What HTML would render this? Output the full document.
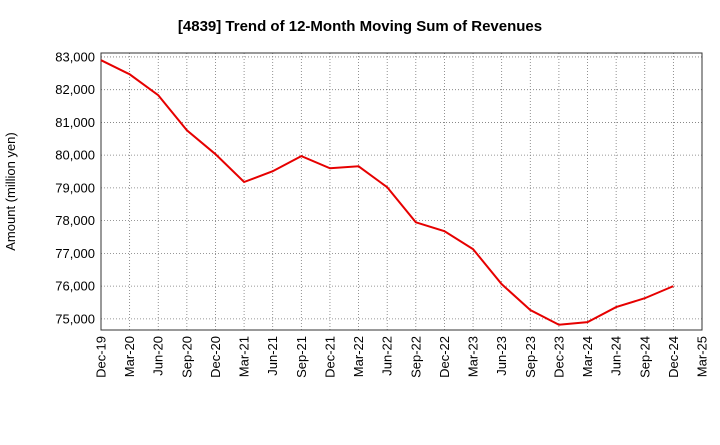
<!DOCTYPE html>
<html><head><meta charset="utf-8"><style>
body{margin:0;background:#fff;font-family:"Liberation Sans",sans-serif}
</style></head><body>
<svg id="c" width="720" height="440" xmlns="http://www.w3.org/2000/svg"></svg>
<script>
const categories=["Dec-19","Mar-20","Jun-20","Sep-20","Dec-20","Mar-21","Jun-21","Sep-21","Dec-21","Mar-22","Jun-22","Sep-22","Dec-22","Mar-23","Jun-23","Sep-23","Dec-23","Mar-24","Jun-24","Sep-24","Dec-24","Mar-25"];
const revenues=[82900,82470,81830,80760,80030,79180,79510,79970,79600,79660,79020,77950,77680,77130,76060,75270,74820,74900,75360,75630,76000];
const yTicks=[75000,76000,77000,78000,79000,80000,81000,82000,83000];
const svg=document.getElementById('c');const NS="http://www.w3.org/2000/svg";
const L=101,R=702,T=53,B=330,ymin=74660,ymax=83120;
const x=i=>L+(R-L)*i/(categories.length-1);
const y=v=>B-(v-ymin)/(ymax-ymin)*(B-T);
function el(t,a,p){const e=document.createElementNS(NS,t);for(const k in a)e.setAttribute(k,a[k]);(p||svg).appendChild(e);return e;}
const title=el('text',{x:360,y:31,'text-anchor':'middle','font-size':15,'font-weight':'bold',fill:'#000'});
title.textContent="[4839]  Trend of 12-Month Moving Sum of Revenues";


const grid=el('g',{stroke:'#777','stroke-width':0.8,'stroke-dasharray':'1,2'});


yTicks.forEach(v=>{el('line',{x1:L,x2:R,y1:y(v),y2:y(v)},grid);
 const t=el('text',{x:L-6,y:y(v)+4.5,'text-anchor':'end','font-size':13});t.textContent=v.toLocaleString('en-US');
 
 });
categories.forEach((c,i)=>{el('line',{x1:x(i),x2:x(i),y1:T,y2:B},grid);
 const t=el('text',{transform:`translate(${x(i)+4.5},${B+6}) rotate(-90)`,'text-anchor':'end','font-size':13});t.textContent=c;
 
 });
const frame=el('rect',{x:L,y:T,width:R-L,height:B-T,fill:'none',stroke:'#333','stroke-width':1});


const yt=el('text',{transform:`translate(19,${(T+B)/2}) rotate(-90)`,'text-anchor':'middle','font-size':13});
yt.setAttribute('transform',`translate(15,${(T+B)/2}) rotate(-90)`);
yt.textContent="Amount (million yen)";


const line=el('polyline',{points:revenues.map((v,i)=>x(i)+','+y(v)).join(' '),fill:'none',stroke:'#e60000','stroke-width':2});


</script>
</body></html>
